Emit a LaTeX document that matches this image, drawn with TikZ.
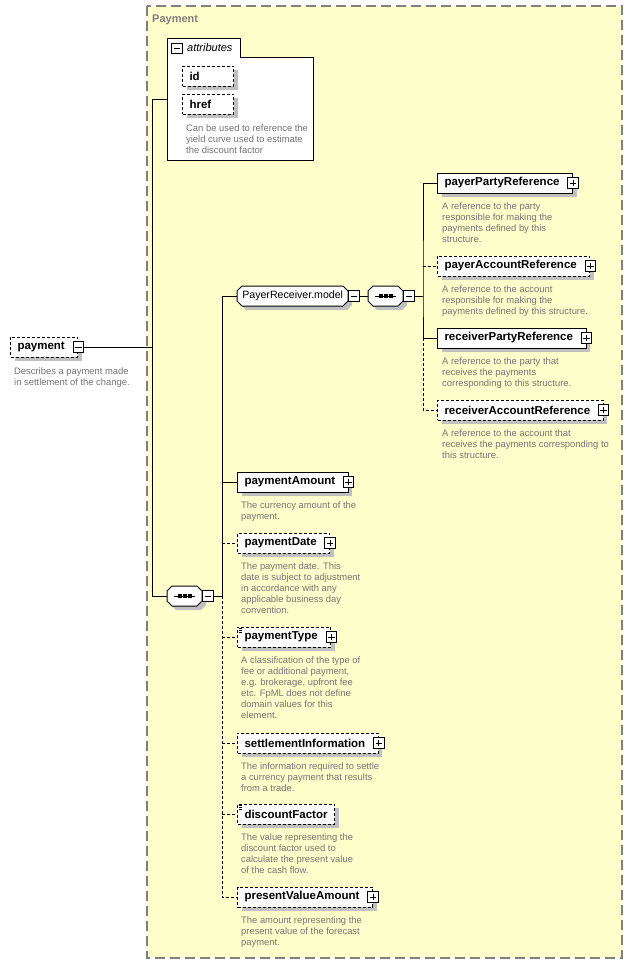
\documentclass[tikz,border=0pt]{standalone}
\usepackage{fontspec}
\setmainfont{Liberation Sans}
\usetikzlibrary{positioning,shadows}

\definecolor{groupfill}{RGB}{255,255,204}
\definecolor{groupline}{RGB}{128,128,128}
\definecolor{shadowgray}{RGB}{192,192,192}
\definecolor{desctext}{RGB}{116,116,116}

\newcommand{\elemfont}{\fontsize{11.5}{13}\selectfont\bfseries}
\newcommand{\descfont}{\fontsize{9.4}{11}\selectfont}
\newcommand{\modelfont}{\fontsize{10.6}{12}\selectfont}
\newcommand{\octpath}[1]{(0,-5) -- (5,-10) -- ({#1-5},-10) -- (#1,-5) -- (#1,5) -- ({#1-5},10) -- (5,10) -- (0,5) -- cycle}

\tikzset{
  boxshadow/.style={drop shadow={shadow xshift=4pt, shadow yshift=-4pt, fill=shadowgray, opacity=1}},
  elem/.style={draw, fill=white, line width=1pt, font=\elemfont, minimum height=20pt,
    inner xsep=7pt, inner ysep=0pt, anchor=west, boxshadow},
  optional/.style={dash pattern=on 3pt off 2pt},
  children/.style={execute at end node={\hspace*{6pt}}},
  listicon/.style={path picture={
      \foreach \d in {1.5,3.5,5.5}
        \draw[line width=0.7pt] ([shift={(1.5pt,-\d pt)}]path picture bounding box.north west) -- ++(5pt,0pt);}},
  toggle/.style={draw, fill=white, line width=1pt, minimum size=10.5pt, inner sep=0pt},
  minus/.style={toggle, path picture={
      \draw[line width=0.9pt] ([xshift=2pt]path picture bounding box.west) -- ([xshift=-2pt]path picture bounding box.east);}},
  plus/.style={toggle, path picture={
      \draw[line width=0.9pt] ([xshift=2pt]path picture bounding box.west) -- ([xshift=-2pt]path picture bounding box.east)
        ([yshift=-2pt]path picture bounding box.north) -- ([yshift=2pt]path picture bounding box.south);}},
  model/.style={font=\modelfont, minimum height=20pt, inner sep=0pt, anchor=west},
  desc/.style={font=\descfont, text=desctext, align=left, inner sep=0pt},
  link/.style={line width=1pt},
  optlink/.style={link, dash pattern=on 3pt off 2pt},
  pics/chamfer/.style={code={
      \fill[shadowgray, shift={(4,4)}] \octpath{#1};
      \draw[line width=1pt, fill=white] \octpath{#1};}},
  pics/seqmark/.style={code={
      \draw[line width=1pt] (7,0) -- (28,0);
      \foreach \d in {12.5,17.5,22.5}
        \fill (\d-2,-2) rectangle (\d+2,2);}},
}

\begin{document}
\begin{tikzpicture}[x=1pt,y=-1pt]

  \useasboundingbox (0,0) rectangle (634,964);

  % Group box of the complex type
  \draw[groupline, fill=groupfill, line width=1.3pt, dash pattern=on 10pt off 5pt] (147,6) rectangle (622,958);
  \node[font=\fontsize{11}{13}\selectfont\bfseries, text=groupline, anchor=west, inner sep=0pt] (title) at (152,20) {Payment};

  % Attributes
  \draw[line width=1pt, fill=white] (167,38) -- (240,38) -- (240,57) -- (313,57) -- (313,160) -- (167,160) -- cycle;
  \node[minus] (attrT) at (177,48.5) {};
  \node[font=\fontsize{11}{13}\selectfont\itshape, anchor=west, inner sep=0pt] (attrL) at (187,48) {attributes};
  \node[elem, optional, text width=37pt, align=left] (id) at (182,76) {id};
  \node[elem, optional, text width=37pt, align=left] (href) at (182,104) {href};
  \node[desc, below right=10pt and 4pt of href.south west] (hrefD) {Can be used to reference the\\yield curve used to estimate\\the discount factor};
  \coordinate (attrIn) at (167,99);

  % Root element
  \node[elem, optional, children] (payment) at (10,347) {payment};
  \node[minus] (paymentT) at (payment.east) {};
  \node[desc, below right=10pt and 4pt of payment.south west] (paymentD) {Describes a payment made\\in settlement of the change.};

  % Compositors
  \pic at (167,596) {chamfer=35};
  \pic at (167,596) {seqmark};
  \node[model, minimum width=35pt] (seqL) at (167,596) {};
  \node[minus, anchor=west] (seqLT) at (seqL.east) {};
  \pic at (237,296) {chamfer=111};
  \node[model, minimum width=111pt] (prm) at (237,296) {PayerReceiver.model};
  \node[minus, anchor=west] (prmT) at (prm.east) {};
  \pic at (368,296) {chamfer=35};
  \pic at (368,296) {seqmark};
  \node[model, minimum width=35pt] (seqR) at (368,296) {};
  \node[minus, anchor=west] (seqRT) at (seqR.east) {};

  % Payer / receiver references
  \node[elem, children] (pPR) at (437,183) {payerPartyReference};
  \node[plus] (pPRT) at (pPR.east) {};
  \node[desc, below right=9pt and 5pt of pPR.south west] (pPRD) {A reference to the party\\responsible for making the\\payments defined by this\\structure.};

  \node[elem, optional, children] (pAR) at (437,266) {payerAccountReference};
  \node[plus] (pART) at (pAR.east) {};
  \node[desc, below right=9pt and 5pt of pAR.south west] (pARD) {A reference to the account\\responsible for making the\\payments defined by this structure.};

  \node[elem, children] (rPR) at (437,338) {receiverPartyReference};
  \node[plus] (rPRT) at (rPR.east) {};
  \node[desc, below right=9pt and 5pt of rPR.south west] (rPRD) {A reference to the party that\\receives the payments\\corresponding to this structure.};

  \node[elem, optional, children] (rAR) at (437,410) {receiverAccountReference};
  \node[plus] (rART) at (rAR.east) {};
  \node[desc, below right=9pt and 5pt of rAR.south west] (rARD) {A reference to the account that\\receives the payments corresponding to\\this structure.};

  % Payment elements
  \node[elem, children] (pA) at (237,482) {paymentAmount};
  \node[plus] (pAT) at (pA.east) {};
  \node[desc, below right=9pt and 4pt of pA.south west] (pAD) {The currency amount of the\\payment.};

  \node[elem, optional, children] (pD) at (237,543) {paymentDate};
  \node[plus] (pDT) at (pD.east) {};
  \node[desc, below right=9pt and 4pt of pD.south west] (pDD) {The payment date. This\\date is subject to adjustment\\in accordance with any\\applicable business day\\convention.};

  \node[elem, optional, children, listicon] (pT) at (237,637) {paymentType};
  \node[plus] (pTT) at (pT.east) {};
  \node[desc, below right=9pt and 4pt of pT.south west] (pTD) {A classification of the type of\\fee or additional payment,\\e.g. brokerage, upfront fee\\etc. FpML does not define\\domain values for this\\element.};

  \node[elem, optional, children] (sI) at (237,743) {settlementInformation};
  \node[plus] (sIT) at (sI.east) {};
  \node[desc, below right=9pt and 4pt of sI.south west] (sID) {The information required to settle\\a currency payment that results\\from a trade.};

  \node[elem, optional, listicon] (dF) at (237,814) {discountFactor};
  \node[desc, below right=9pt and 4pt of dF.south west] (dFD) {The value representing the\\discount factor used to\\calculate the present value\\of the cash flow.};

  \node[elem, optional, children] (pV) at (237,897) {presentValueAmount};
  \node[plus] (pVT) at (pV.east) {};
  \node[desc, below right=9pt and 4pt of pV.south west] (pVD) {The amount representing the\\present value of the forecast\\payment.};

  % Buses
  \coordinate (busL) at (152,596);
  \coordinate (busM) at (222,596);
  \coordinate (busR) at (423,296);

  % Connectors
  \draw[link] (paymentT.east) -- (paymentT.east -| busL);
  \draw[link] (attrIn) -| (busL) -- (seqL.west);
  \draw[link] (seqLT.east) -- (busM);
  \draw[link] (busM) |- (prm.west);
  \draw[link] (prmT.east) -- (seqR.west);
  \draw[link] (busM |- pA.west) -- (pA.west);
  \draw[optlink] (busM) |- (pV.west);
  \draw[optlink] (busM |- pD.west) -- (pD.west);
  \draw[optlink] (busM |- pT.west) -- (pT.west);
  \draw[optlink] (busM |- sI.west) -- (sI.west);
  \draw[optlink] (busM |- dF.west) -- (dF.west);

  \draw[link] (seqRT.east) -- (busR);
  \draw[link] (pPR.west) -| (busR) |- (rPR.west);
  \draw[optlink] (busR |- pAR.west) -- (pAR.west);
  \draw[optlink] (busR |- rPR.west) |- (rAR.west);

\end{tikzpicture}
\end{document}
